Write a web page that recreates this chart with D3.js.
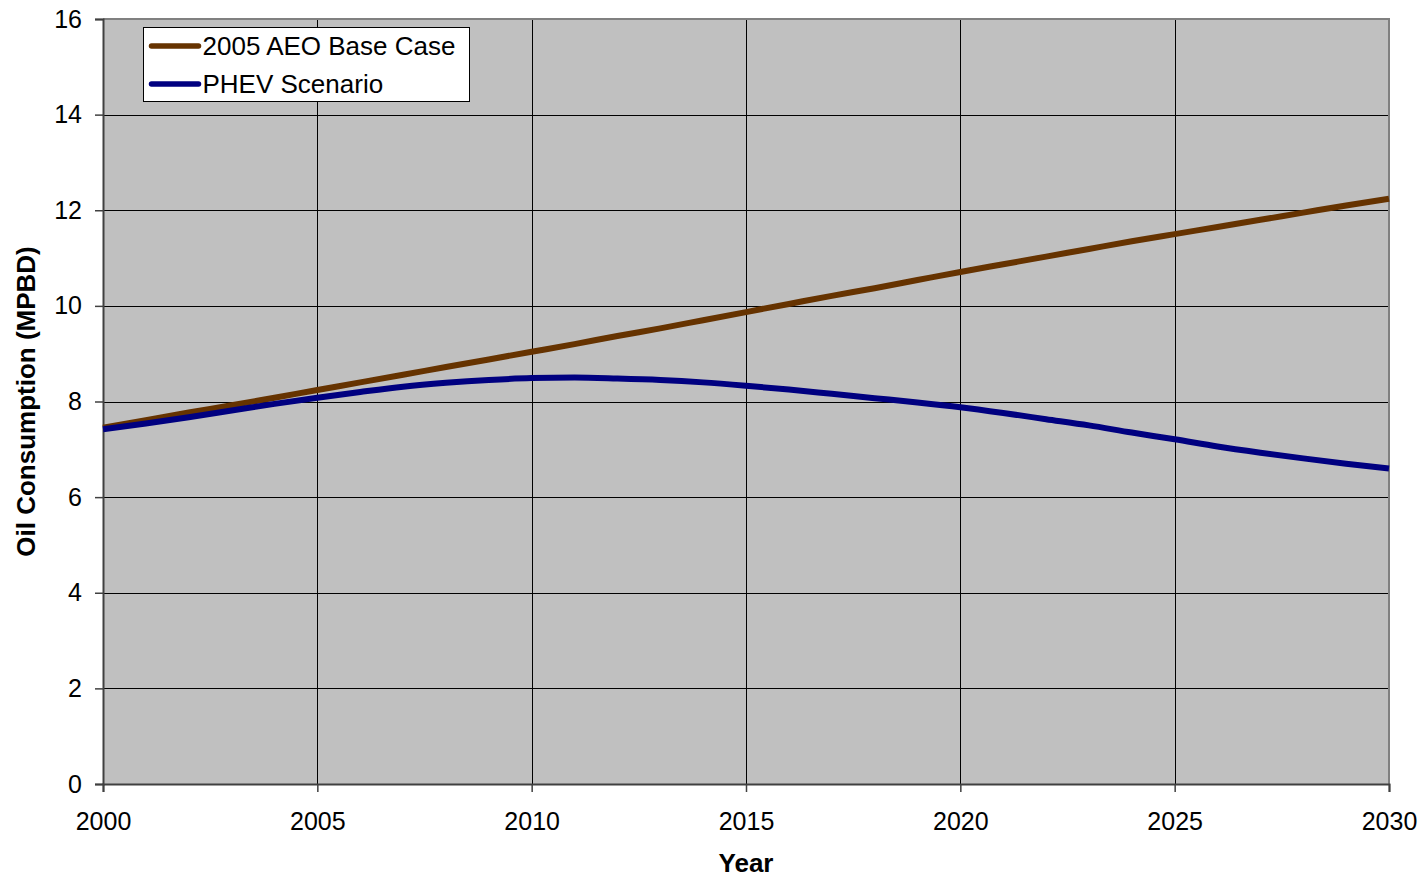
<!DOCTYPE html>
<html>
<head>
<meta charset="utf-8">
<script src="https://cdn.jsdelivr.net/npm/d3@7"></script>
<style>
  body { margin: 0; background: #fff; }
  svg { display: block; font-family: "Liberation Sans", Arial, sans-serif; }
</style>
</head>
<body>
<div id="chart"></div>
<script>
const years = d3.range(2000, 2031);
const baseCase = [7.45, 7.61, 7.77, 7.92, 8.08, 8.24, 8.40, 8.56, 8.72, 8.88, 9.04,
  9.20, 9.37, 9.53, 9.70, 9.87, 10.04, 10.21, 10.37, 10.54, 10.71,
  10.87, 11.03, 11.19, 11.35, 11.50, 11.65, 11.80, 11.95, 12.10, 12.24];
const phev = [7.42, 7.54, 7.67, 7.81, 7.95, 8.08, 8.20, 8.31, 8.39, 8.45, 8.49,
  8.50, 8.48, 8.45, 8.40, 8.33, 8.25, 8.16, 8.07, 7.98, 7.88,
  7.76, 7.63, 7.50, 7.35, 7.21, 7.06, 6.93, 6.81, 6.70, 6.60];
const seriesNames = ["2005 AEO Base Case", "PHEV Scenario"];
const seriesColors = ["#663300", "#000080"];
const yTicks = [0, 2, 4, 6, 8, 10, 12, 14, 16];
const xTicks = [2000, 2005, 2010, 2015, 2020, 2025, 2030];

const width = 1423, height = 877;
const margin = { top: 19, right: 34, bottom: 93, left: 103 };

const svg = d3.select("#chart").append("svg")
  .attr("width", width)
  .attr("height", height);

const x = d3.scaleLinear().domain([2000, 2030]).range([margin.left, width - margin.right]);
const y = d3.scaleLinear().domain([0, 16]).range([height - margin.bottom, margin.top]);

// plot background
svg.append("rect")
  .attr("x", x(2000)).attr("y", y(16))
  .attr("width", x(2030) - x(2000)).attr("height", y(0) - y(16))
  .attr("fill", "#c0c0c0");

// gridlines
svg.append("g").selectAll("line").data(yTicks.filter(d => d > 0 && d < 16)).enter().append("line")
  .attr("x1", x(2000)).attr("x2", x(2030))
  .attr("y1", d => Math.round(y(d)) + 0.5).attr("y2", d => Math.round(y(d)) + 0.5)
  .attr("stroke", "#000").attr("stroke-width", 1);
svg.append("g").selectAll("line").data(xTicks.filter(d => d > 2000 && d < 2030)).enter().append("line")
  .attr("x1", d => Math.round(x(d)) + 0.5).attr("x2", d => Math.round(x(d)) + 0.5)
  .attr("y1", y(0)).attr("y2", y(16))
  .attr("stroke", "#000").attr("stroke-width", 1);

// top and right border
svg.append("path")
  .attr("d", `M${x(2000)},${y(16)}H${x(2030)}V${y(0)}`)
  .attr("fill", "none").attr("stroke", "#808080").attr("stroke-width", 2);

// axes
const yAxis = svg.append("g")
  .attr("transform", `translate(${x(2000)},0)`)
  .call(d3.axisLeft(y).tickValues(yTicks).tickSize(8).tickPadding(13));
const xAxis = svg.append("g")
  .attr("transform", `translate(0,${y(0)})`)
  .call(d3.axisBottom(x).tickValues(xTicks).tickFormat(d3.format("d")).tickSize(8).tickPadding(20));

[yAxis, xAxis].forEach(g => {
  g.attr("font-size", null).attr("font-family", null);
  g.select(".domain").attr("stroke", "#404040").attr("stroke-width", 2);
  g.selectAll(".tick line").attr("stroke", "#404040").attr("stroke-width", 1.5);
  g.selectAll(".tick text").attr("fill", "#000")
    .style("font-size", "25px")
    .style("font-family", "'Liberation Sans', Arial, sans-serif");
});

// series
const line = d3.line()
  .x((d, i) => x(years[i]))
  .y(d => y(d))
  .curve(d3.curveMonotoneX);

[baseCase, phev].forEach((vals, i) => {
  svg.append("path")
    .datum(vals)
    .attr("d", line)
    .attr("fill", "none")
    .attr("stroke", seriesColors[i])
    .attr("stroke-width", 6)
    .attr("stroke-linejoin", "round");
});

// axis titles
svg.append("text")
  .attr("x", (x(2000) + x(2030)) / 2).attr("y", 872)
  .attr("text-anchor", "middle")
  .style("font-size", "26px").attr("font-weight", "bold")
  .text("Year");

svg.append("text")
  .attr("transform", `translate(35,${(y(0) + y(16)) / 2}) rotate(-90)`)
  .attr("text-anchor", "middle")
  .style("font-size", "26px").attr("font-weight", "bold")
  .text("Oil Consumption (MPBD)");

// legend
const legend = svg.append("g").attr("transform", "translate(143.5,27.5)");
legend.append("rect")
  .attr("width", 326).attr("height", 74)
  .attr("fill", "#fff").attr("stroke", "#000").attr("stroke-width", 1);
seriesNames.forEach((name, i) => {
  const yy = 18.5 + i * 38;
  legend.append("line")
    .attr("x1", 8).attr("x2", 55).attr("y1", yy).attr("y2", yy)
    .attr("stroke", seriesColors[i]).attr("stroke-width", 5.5)
    .attr("stroke-linecap", "round");
  legend.append("text")
    .attr("x", 59).attr("y", yy + 9)
    .style("font-size", "26px")
    .text(name);
});
</script>
</body>
</html>
